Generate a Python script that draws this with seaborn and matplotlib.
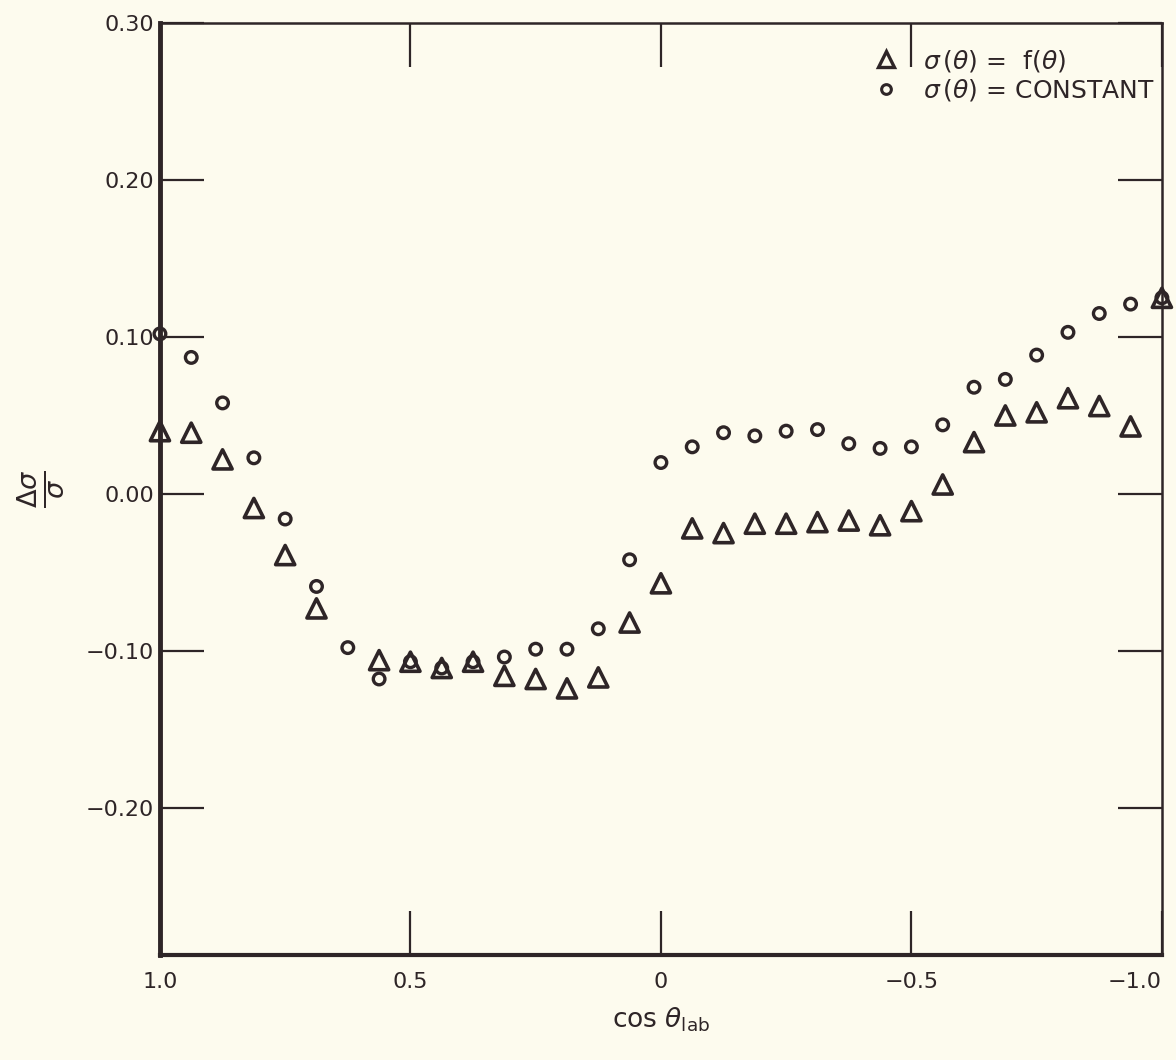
import numpy as np
import pandas as pd
import matplotlib
matplotlib.use('Agg')
import matplotlib.pyplot as plt
import seaborn as sns
from matplotlib.lines import Line2D

# cos(theta_lab) grid, 33 points from 1.0 to -1.0
cos_theta = [1.0, 0.9375, 0.875, 0.8125, 0.75, 0.6875, 0.625, 0.5625, 0.5,
             0.4375, 0.375, 0.3125, 0.25, 0.1875, 0.125, 0.0625, 0.0,
             -0.0625, -0.125, -0.1875, -0.25, -0.3125, -0.375, -0.4375, -0.5,
             -0.5625, -0.625, -0.6875, -0.75, -0.8125, -0.875, -0.9375, -1.0]

# delta sigma / sigma, sigma(theta) = f(theta)
sig_f = [0.040, 0.039, 0.022, -0.009, -0.039, -0.073, np.nan, -0.106, -0.107,
         -0.111, -0.107, -0.116, -0.118, -0.124, -0.117, -0.082, -0.057,
         -0.022, -0.025, -0.019, -0.019, -0.018, -0.017, -0.020, -0.011,
         0.006, 0.033, 0.050, 0.052, 0.061, 0.056, 0.043, 0.125]

# delta sigma / sigma, sigma(theta) = constant
sig_c = [0.102, 0.087, 0.058, 0.023, -0.016, -0.059, -0.098, -0.118, -0.107,
         -0.111, -0.107, -0.104, -0.099, -0.099, -0.086, -0.042, 0.020,
         0.030, 0.039, 0.037, 0.040, 0.041, 0.032, 0.029, 0.030,
         0.044, 0.068, 0.073, 0.0885, 0.103, 0.115, 0.121, 0.125]

xticks = [1.0, 0.5, 0.0, -0.5, -1.0]
xtick_labels = ['1.0', '0.5', '0', '\u22120.5', '\u22121.0']
yticks = [0.30, 0.20, 0.10, 0.00, -0.10, -0.20]
ytick_labels = ['0.30', '0.20', '0.10', '0.00', '\u22120.10', '\u22120.20']

ink = '#2e2527'
bg = '#fdfbee'

sns.set_theme(style='white')
plt.rcParams['font.family'] = ['DejaVu Sans']
plt.rcParams['mathtext.fontset'] = 'dejavusans'

df = pd.DataFrame({'cos': cos_theta, 'f': sig_f, 'c': sig_c})

fig = plt.figure(figsize=(11.76, 10.6), dpi=100, facecolor=bg)
ax = fig.add_axes([0.136, 0.099, 0.852, 0.879])
ax.set_facecolor(bg)

sns.scatterplot(data=df, x='cos', y='c', ax=ax, marker='o', s=70,
                facecolor='none', edgecolor=ink, linewidth=2.4, zorder=3,
                clip_on=False)
sns.scatterplot(data=df, x='cos', y='f', ax=ax, marker='^', s=190,
                facecolor='none', edgecolor=ink, linewidth=2.6, zorder=4,
                clip_on=False)

ax.set_xlim(1.0, -1.0)
ax.set_ylim(-0.294, 0.30)

ax.set_xticks(xticks)
ax.set_xticklabels(xtick_labels)
ax.set_yticks(yticks)
ax.set_yticklabels(ytick_labels)
ax.tick_params(axis='both', direction='in', length=32, width=1.6, color=ink,
               labelcolor=ink, labelsize=16, top=True, right=True,
               bottom=True, left=True)
ax.tick_params(axis='x', pad=12)
ax.tick_params(axis='y', pad=4)
ax.get_xticklabels()[-1].set_horizontalalignment('right')
ax.get_xticklabels()[-1].set_x(-1.0)

for side, sp in ax.spines.items():
    sp.set_color(ink)
    sp.set_linewidth(1.8)
ax.spines['left'].set_linewidth(3.5)
ax.spines['bottom'].set_linewidth(3.0)

ax.set_xlabel(r'cos $\theta_{\mathrm{lab}}$', fontsize=19, color=ink, labelpad=10)
ax.set_ylabel(r'$\frac{\Delta\sigma}{\sigma}$', fontsize=28, color=ink, labelpad=14)

handles = [
    Line2D([], [], marker='^', linestyle='none', markersize=11,
           markerfacecolor='none', markeredgecolor=ink, markeredgewidth=2.4),
    Line2D([], [], marker='o', linestyle='none', markersize=7,
           markerfacecolor='none', markeredgecolor=ink, markeredgewidth=2.2),
]
labels = [r'$\sigma\,(\theta)$ =  f$(\theta)$', r'$\sigma\,(\theta)$ = CONSTANT']
leg = ax.legend(handles, labels, loc='upper right', bbox_to_anchor=(1.008, 0.99),
                frameon=False, fontsize=18, handletextpad=0.5, labelspacing=0.15,
                borderaxespad=0.2)
for t in leg.get_texts():
    t.set_color(ink)

fig.savefig('out.png', dpi=100, facecolor=bg)
